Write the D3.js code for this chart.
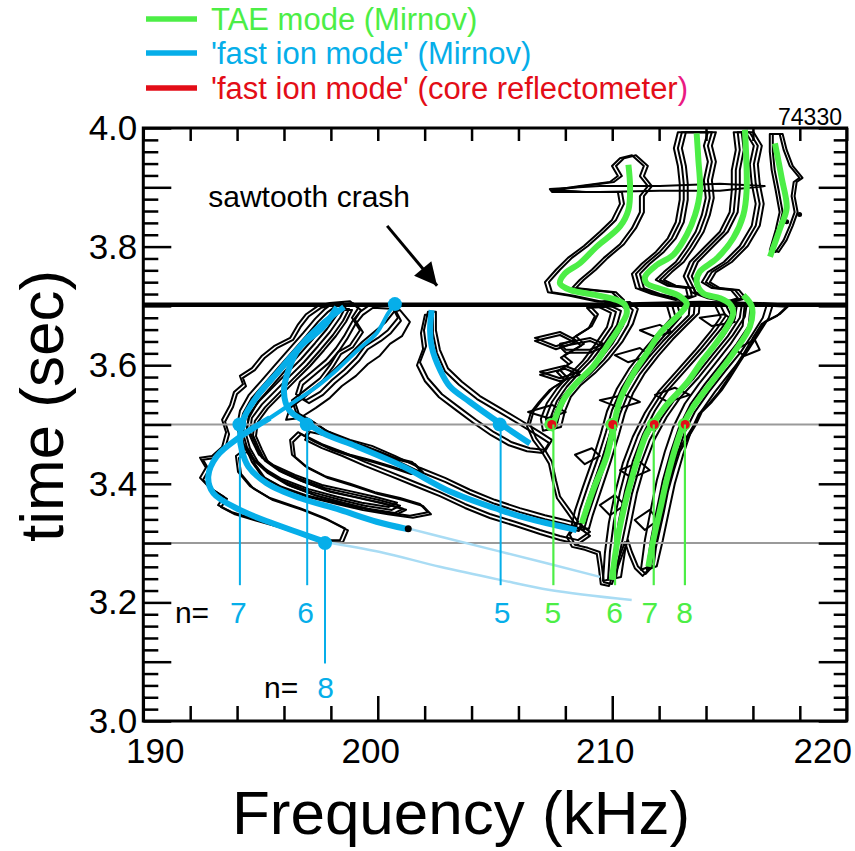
<!DOCTYPE html>
<html><head><meta charset="utf-8">
<script src="https://cdn.jsdelivr.net/npm/d3@7"></script>
<style>
body{margin:0;background:#fff}
svg{display:block}
text{font-family:"Liberation Sans",Arial,Helvetica,sans-serif}
</style>
</head><body>
<svg id="chart" width="855" height="851"></svg>
<script>
// ---------------- DATA ----------------
const freqDomain = [190, 220];
const timeDomain = [3.0, 4.0];
const xTickLabels = [190, 200, 210, 220];
const yTickLabels = [3.0, 3.2, 3.4, 3.6, 3.8, 4.0];
const sawtoothTime = 3.702;
const refTimes = [3.5, 3.3];
const shotNumber = "74330";
const legendItems = [
  {label: "TAE mode (Mirnov)", key: "tae"},
  {label: "'fast ion mode' (Mirnov)", key: "fast"},
  {label: "'fast ion mode' (core reflectometer)", key: "refl"}
];

// fast ion mode (Mirnov) curves: [freq kHz, time s]
const fastN8Upper = [[200.73,3.703],[200.45,3.688],[199.95,3.654],[199.24,3.629],[198.25,3.592],[197.40,3.564],[196.54,3.541],[195.40,3.511]];
const fastN8Lower = [[195.40,3.511],[194.12,3.479],[193.13,3.446],[192.77,3.412],[192.99,3.384],[194.12,3.356],[195.54,3.333],[196.68,3.317],[197.75,3.302]];
const fastN8Extrap = [[197.75,3.302],[200.10,3.285],[202.65,3.260],[205.21,3.238],[207.34,3.221],[210.83,3.204]];
const fastN7 = [[198.26,3.698],[197.68,3.665],[196.68,3.631],[195.69,3.586],[194.84,3.547],[194.26,3.508],[194.12,3.479],[194.20,3.457],[194.48,3.429],[195.26,3.401],[196.68,3.376],[198.39,3.356],[199.95,3.336],[201.23,3.324]];
const fastN7Extrap = [[201.37,3.324],[202.65,3.311],[205.50,3.283],[209.48,3.243]];
const fastN6 = [[198.56,3.698],[197.68,3.671],[196.68,3.631],[196.17,3.589],[196.00,3.555],[196.21,3.525],[196.97,3.503],[197.68,3.485],[199.10,3.463],[201.09,3.429],[203.08,3.387],[205.21,3.356],[206.35,3.342],[208.48,3.322]];
const fastN5 = [[202.30,3.693],[202.23,3.659],[202.30,3.631],[202.66,3.592],[203.08,3.564],[203.93,3.538],[205.21,3.502],[206.49,3.468]];
const fastDots = [[200.73,3.703],[194.10,3.5],[196.97,3.5],[205.20,3.5],[197.75,3.3]];
const fastEndDots = [[201.30,3.324]];

// TAE mode (Mirnov) curves
const taeN5 = [[207.38,3.489],[207.49,3.502],[207.91,3.541],[208.48,3.570],[209.19,3.598],[209.76,3.631],[210.33,3.665],[210.62,3.688],[210.54,3.702],[210.19,3.710],[209.34,3.718],[208.20,3.727],[207.77,3.738],[207.99,3.755],[208.62,3.772],[209.34,3.800],[210.33,3.834],[210.69,3.862],[210.76,3.901],[210.69,3.938]];
const taeN6 = [[208.70,3.333],[209.19,3.390],[209.76,3.446],[210.05,3.496],[210.33,3.541],[210.90,3.586],[211.47,3.620],[212.04,3.654],[212.60,3.676],[213.03,3.693],[213.18,3.704],[212.89,3.716],[212.18,3.727],[211.47,3.738],[211.40,3.749],[211.90,3.769],[212.60,3.786],[213.18,3.820],[213.53,3.853],[213.74,3.893],[213.67,3.949],[213.60,3.991]];
const taeN7 = [[209.98,3.238],[210.33,3.328],[210.90,3.418],[211.47,3.485],[211.75,3.502],[212.32,3.533],[213.18,3.570],[213.87,3.609],[214.43,3.637],[214.89,3.664],[215.16,3.688],[215.02,3.703],[214.60,3.713],[213.88,3.721],[213.60,3.741],[213.74,3.758],[214.46,3.780],[215.16,3.814],[215.59,3.853],[215.73,3.893],[215.66,3.997]];
const taeN8 = [[211.54,3.260],[211.75,3.305],[212.04,3.356],[212.32,3.406],[212.75,3.468],[213.06,3.502],[213.46,3.530],[214.31,3.575],[215.16,3.620],[215.87,3.665],[215.95,3.699],[215.59,3.718]];
const taeUpper = [[216.94,3.974],[217.23,3.915],[217.44,3.865],[217.16,3.831],[216.73,3.783]];

// 'fast ion mode' seen by the core reflectometer at 3.5 s
const reflDots = [[207.38,3.5],[209.98,3.5],[211.75,3.5],[213.07,3.5]];

// toroidal mode number markers
const fastMarkers = [
  {n:"7", f:194.12, t0:3.5, t1:3.229, lf:194.05, lt:3.165},
  {n:"6", f:196.99, t0:3.5, t1:3.229, lf:196.92, lt:3.165},
  {n:"8", f:197.75, t0:3.3, t1:3.097, lf:197.77, lt:3.039},
  {n:"5", f:205.24, t0:3.5, t1:3.229, lf:205.30, lt:3.165}
];
const taeMarkers = [
  {n:"5", f:207.49, t0:3.5, t1:3.229, lf:207.47, lt:3.165},
  {n:"6", f:210.12, t0:3.5, t1:3.229, lf:210.10, lt:3.165},
  {n:"7", f:211.77, t0:3.5, t1:3.229, lf:211.60, lt:3.165},
  {n:"8", f:213.10, t0:3.5, t1:3.229, lf:213.09, lt:3.165}
];
const nPrefixLabels = [{f:191.35, t:3.165}, {f:195.15, t:3.039}];

// annotation
const sawtoothText = {label:"sawtooth crash", f:192.77, t:3.867};
const sawtoothArrow = [[200.40,3.835],[202.53,3.734]];

// spectrogram contour outlines
const contourA1 = [[197.96,3.705],[198.82,3.708],[199.16,3.696],[198.90,3.680],[199.24,3.659],[198.82,3.634],[198.30,3.622],[197.96,3.600],[197.54,3.578],[196.90,3.558],[196.34,3.541],[196.51,3.521],[197.11,3.508],[197.75,3.491],[198.60,3.474],[199.45,3.464],[200.09,3.454],[200.73,3.444],[201.46,3.437],[201.80,3.423],[201.29,3.420],[200.52,3.430],[199.67,3.440],[198.82,3.449],[197.96,3.460],[197.19,3.474],[196.60,3.487],[196.26,3.474],[196.34,3.449],[196.90,3.430],[197.75,3.413],[198.82,3.400],[199.88,3.386],[200.95,3.376],[201.80,3.366],[202.14,3.352],[201.37,3.346],[200.31,3.352],[199.24,3.359],[198.18,3.369],[196.90,3.381],[195.83,3.396],[195.06,3.413],[194.63,3.437],[194.38,3.460],[193.95,3.447],[194.04,3.420],[194.55,3.396],[195.40,3.376],[196.68,3.359],[197.75,3.342],[198.60,3.325],[198.39,3.305],[197.54,3.305],[196.68,3.317],[195.62,3.331],[194.63,3.342],[193.78,3.352],[193.19,3.364],[193.44,3.378],[192.84,3.393],[192.42,3.410],[192.67,3.427],[192.42,3.444],[192.93,3.447],[193.36,3.462],[193.53,3.487],[193.36,3.508],[193.70,3.533],[193.87,3.555],[194.25,3.568],[194.12,3.582],[194.63,3.595],[195.06,3.616],[195.57,3.632],[196.26,3.646],[196.60,3.669],[196.94,3.686],[197.45,3.700]];
const contourA2 = [[198.22,3.700],[198.65,3.700],[198.39,3.680],[197.96,3.656],[197.45,3.632],[196.85,3.605],[196.26,3.582],[195.66,3.558],[195.06,3.534],[194.63,3.511],[194.55,3.487],[194.81,3.464],[195.06,3.444],[195.66,3.427],[196.60,3.410],[197.75,3.393],[198.90,3.383],[200.01,3.373],[200.95,3.363],[200.60,3.356],[199.45,3.363],[198.39,3.373],[197.19,3.386],[196.04,3.403],[195.19,3.423],[194.63,3.444],[194.29,3.467],[194.12,3.491],[194.25,3.518],[194.63,3.545],[195.15,3.568],[195.74,3.595],[196.34,3.622],[196.94,3.649],[197.45,3.673],[197.88,3.690]];
const contourA3 = [[199.67,3.702],[200.60,3.700],[200.86,3.680],[200.43,3.659],[200.01,3.646],[199.45,3.632],[199.07,3.612],[198.56,3.592],[198.05,3.575],[197.54,3.555],[196.94,3.541],[196.51,3.551],[196.68,3.572],[197.19,3.589],[197.79,3.609],[198.22,3.629],[198.56,3.649],[198.90,3.673],[199.24,3.690]];
const contourA4 = [[200.95,3.693],[201.37,3.673],[201.03,3.649],[200.52,3.636],[200.09,3.616],[199.58,3.602],[199.07,3.582],[198.47,3.565],[197.96,3.545],[197.36,3.528],[196.68,3.511],[196.09,3.508],[196.26,3.528],[196.85,3.545],[197.36,3.562],[197.88,3.582],[198.39,3.602],[198.90,3.622],[199.33,3.639],[199.84,3.656],[200.35,3.673],[200.69,3.690]];
const contourB1 = [[202.14,3.690],[202.48,3.690],[202.48,3.659],[202.65,3.626],[202.99,3.595],[203.59,3.572],[204.36,3.548],[205.21,3.528],[206.06,3.508],[206.92,3.487],[207.43,3.474],[207.17,3.457],[206.49,3.460],[205.72,3.470],[204.96,3.487],[204.19,3.508],[203.51,3.528],[202.74,3.551],[202.14,3.578],[201.80,3.605],[202.06,3.632],[201.97,3.659]];
const contourC1 = [[197.11,3.494],[197.96,3.487],[198.82,3.474],[199.75,3.464],[200.73,3.447],[201.80,3.427],[202.87,3.410],[203.93,3.390],[204.99,3.373],[206.06,3.359],[207.13,3.347],[207.98,3.339],[208.62,3.332],[209.05,3.319],[208.54,3.305],[207.77,3.312],[206.92,3.322],[205.85,3.336],[204.78,3.349],[203.72,3.366],[202.65,3.386],[201.58,3.403],[200.52,3.420],[199.45,3.437],[198.47,3.454],[197.62,3.467],[196.90,3.481]];
const contourD1 = [[209.05,3.700],[211.18,3.705],[213.73,3.707],[216.29,3.705],[217.57,3.702],[217.14,3.686],[216.50,3.673],[216.12,3.649],[215.78,3.626],[215.44,3.605],[215.01,3.578],[214.67,3.558],[214.25,3.538],[213.82,3.521],[213.56,3.499],[213.22,3.477],[212.88,3.454],[212.63,3.423],[212.37,3.386],[212.20,3.352],[212.03,3.322],[211.86,3.292],[211.77,3.263],[211.43,3.248],[211.09,3.261],[210.84,3.285],[210.67,3.305],[210.41,3.278],[210.16,3.251],[209.99,3.231],[209.64,3.234],[209.56,3.261],[209.47,3.285],[208.96,3.292],[208.41,3.297],[208.19,3.314],[208.54,3.336],[208.19,3.356],[207.77,3.379],[207.60,3.406],[207.43,3.437],[207.13,3.457],[206.75,3.477],[206.49,3.501],[206.66,3.524],[207.00,3.541],[207.47,3.562],[208.11,3.578],[207.77,3.592],[208.28,3.605],[207.94,3.616],[208.79,3.636],[208.45,3.649],[209.13,3.666],[209.39,3.686]];
const contourD2 = [[209.47,3.703],[210.54,3.705],[210.88,3.693],[210.67,3.668],[210.24,3.639],[209.64,3.609],[209.05,3.585],[208.45,3.565],[208.02,3.545],[207.77,3.521],[207.60,3.494],[207.26,3.491],[207.17,3.511],[207.43,3.538],[207.85,3.562],[208.37,3.585],[208.96,3.609],[209.47,3.636],[209.99,3.666],[210.16,3.690]];
const contourD3 = [[212.54,3.703],[213.52,3.705],[213.48,3.686],[212.97,3.666],[212.37,3.642],[211.77,3.615],[211.18,3.585],[210.67,3.551],[210.33,3.518],[210.07,3.481],[209.73,3.437],[209.30,3.386],[208.96,3.346],[208.79,3.322],[208.45,3.325],[208.62,3.356],[208.96,3.396],[209.39,3.444],[209.73,3.487],[209.99,3.524],[210.41,3.562],[210.92,3.595],[211.52,3.626],[212.11,3.653],[212.71,3.680]];
const contourD4 = [[214.59,3.703],[215.53,3.703],[215.44,3.680],[214.93,3.649],[214.25,3.616],[213.48,3.578],[212.71,3.545],[212.11,3.511],[211.60,3.474],[211.18,3.430],[210.84,3.383],[210.58,3.332],[210.33,3.285],[210.16,3.241],[209.82,3.238],[209.90,3.285],[210.07,3.336],[210.33,3.386],[210.67,3.437],[211.09,3.481],[211.60,3.521],[212.20,3.558],[212.97,3.592],[213.73,3.626],[214.42,3.659],[214.84,3.683]];
const contourD5 = [[215.78,3.703],[216.72,3.702],[216.55,3.680],[216.12,3.653],[215.61,3.622],[214.93,3.589],[214.25,3.555],[213.65,3.521],[213.22,3.487],[212.88,3.447],[212.54,3.400],[212.28,3.352],[212.03,3.305],[211.77,3.261],[211.35,3.255],[211.52,3.305],[211.77,3.356],[212.03,3.406],[212.37,3.454],[212.71,3.494],[213.22,3.535],[213.82,3.568],[214.50,3.602],[215.18,3.636],[215.69,3.666]];
const contourE1 = [[209.39,3.707],[210.33,3.710],[209.99,3.723],[209.05,3.727],[208.28,3.730],[208.62,3.744],[209.13,3.761],[209.64,3.781],[210.33,3.804],[210.84,3.831],[211.18,3.858],[211.18,3.885],[211.52,3.902],[211.18,3.919],[211.35,3.936],[210.84,3.954],[210.33,3.949],[209.99,3.936],[210.24,3.919],[209.90,3.909],[208.62,3.902],[207.43,3.895],[208.71,3.892],[210.24,3.892],[210.33,3.872],[209.99,3.845],[209.47,3.825],[208.79,3.801],[208.11,3.781],[207.60,3.761],[207.13,3.740],[207.26,3.723],[208.19,3.717]];
const contourE3 = [[212.88,3.710],[213.39,3.717],[213.31,3.730],[212.54,3.734],[212.03,3.744],[212.37,3.757],[212.88,3.774],[213.31,3.798],[213.73,3.825],[213.99,3.853],[214.16,3.882],[214.08,3.912],[214.25,3.943],[214.08,3.970],[214.25,3.993],[212.97,3.993],[212.80,3.966],[212.97,3.936],[213.05,3.906],[213.05,3.879],[212.88,3.841],[212.54,3.814],[212.03,3.791],[211.43,3.771],[211.01,3.754],[211.18,3.730],[211.86,3.720]];
const contourE4 = [[215.01,3.707],[215.53,3.713],[215.23,3.727],[214.42,3.730],[213.99,3.740],[214.25,3.757],[214.93,3.774],[215.61,3.801],[216.12,3.835],[216.29,3.872],[216.12,3.906],[216.04,3.939],[216.21,3.970],[215.86,3.993],[215.35,3.993],[215.44,3.963],[215.27,3.929],[215.27,3.895],[215.18,3.858],[214.76,3.825],[214.08,3.798],[213.48,3.774],[213.22,3.750],[213.56,3.723],[214.25,3.713]];
const contourE5 = [[207.34,3.897],[209.47,3.902],[212.03,3.902],[214.59,3.906],[216.50,3.902],[214.59,3.894],[212.03,3.894],[209.47,3.892],[207.43,3.892]];
const contourE6 = [[216.72,3.990],[217.14,3.990],[217.31,3.963],[217.57,3.936],[217.99,3.916],[217.74,3.909],[217.65,3.885],[217.78,3.858],[217.57,3.835],[217.31,3.811],[216.97,3.791],[216.72,3.794],[216.97,3.828],[217.14,3.858],[216.97,3.895],[216.80,3.929],[216.72,3.960]];
const contourF1 = [[207.77,3.636],[209.05,3.646],[209.64,3.636],[209.05,3.626],[208.02,3.626]];
const contourF2 = [[209.47,3.541],[210.54,3.550],[211.18,3.538],[210.33,3.528]];
const contourF3 = [[211.18,3.659],[212.03,3.668],[212.54,3.656],[211.82,3.648]];
const contourF4 = [[213.73,3.680],[214.80,3.686],[215.23,3.673],[214.25,3.666]];
const contourF5 = [[210.33,3.423],[211.18,3.437],[211.60,3.423],[210.84,3.410]];
const contourF7 = [[208.41,3.449],[209.13,3.460],[209.47,3.447],[208.83,3.433]];
const contourG1 = [[206.70,3.646],[207.77,3.656],[208.41,3.643],[207.60,3.632]];
const contourG2 = [[206.92,3.589],[207.98,3.599],[208.62,3.589],[207.77,3.578]];
const contourG3 = [[206.41,3.521],[207.43,3.533],[208.02,3.521],[207.26,3.511]];
const contourG4 = [[210.11,3.617],[211.18,3.629],[211.60,3.616],[210.67,3.605]];
const contourG5 = [[211.82,3.550],[212.67,3.562],[213.31,3.550],[212.37,3.538]];
const contourG6 = [[209.47,3.364],[210.11,3.381],[210.54,3.364],[209.90,3.347]];
const contourG7 = [[210.96,3.339],[211.60,3.356],[211.95,3.339],[211.39,3.322]];
const contourG9 = [[215.23,3.626],[216.08,3.643],[216.29,3.626],[215.65,3.616]];
const contourSpecks = [[217.99,3.854],[217.44,3.842]];

// ---------------- STYLE / LAYOUT ----------------
const plot = {left:143.3, right:846.7, top:128, bottom:721};
const colors = {tae:"#4cee46", fast:"#06aee9", fastLight:"#a9dcf4", refl:"#e30d17", pink:"#ea1a82", gray:"#9a9a9a"};
// pixel offsets used to draw nested copies of each contour outline
const band = [[-5,1],[0,0],[5,-1]];
const contourStyle = [
  {pts:contourA1, copies:[[0,0],[3,2]]},
  {pts:contourA2, copies:[[-3,-3],[0,0],[3,3],[6,4]]},
  {pts:contourA3, copies:[[0,0],[3,3]]},
  {pts:contourA4, copies:[[0,0]]},
  {pts:contourB1, copies:[[0,0],[-3,3]]},
  {pts:contourC1, copies:[[0,0],[0,4]]},
  {pts:contourD1, copies:[[0,0],[-3,2]]},
  {pts:contourD2, copies:band},
  {pts:contourD3, copies:band},
  {pts:contourD4, copies:band},
  {pts:contourD5, copies:[[-3,0],[3,0]]},
  {pts:contourE1, copies:[[0,0],[4,0]]},
  {pts:contourE3, copies:[[-4,0],[0,0],[4,0]]},
  {pts:contourE4, copies:[[-4,0],[0,0],[4,0]]},
  {pts:contourE5, copies:[[0,0]]},
  {pts:contourE6, copies:[[0,0],[3,0]]},
  {pts:contourF1, copies:[[0,0],[0,3]]},
  {pts:contourF2, copies:[[0,0]]},
  {pts:contourF3, copies:[[0,0]]},
  {pts:contourF4, copies:[[0,0]]},
  {pts:contourF5, copies:[[0,0]]},
  {pts:contourF7, copies:[[0,0]]},
  {pts:contourG1, copies:[[0,0],[0,3]]},
  {pts:contourG2, copies:[[0,0],[0,3]]},
  {pts:contourG3, copies:[[0,0]]},
  {pts:contourG4, copies:[[0,0]]},
  {pts:contourG5, copies:[[0,0]]},
  {pts:contourG6, copies:[[0,0]]},
  {pts:contourG7, copies:[[0,0]]},
  {pts:contourG9, copies:[[0,0]]}
];

const svg = d3.select("#chart");
const x = d3.scaleLinear().domain(freqDomain).range([plot.left, plot.right]);
const y = d3.scaleLinear().domain(timeDomain).range([plot.bottom, plot.top]);

const closedLine = d3.line().x(d => x(d[0])).y(d => y(d[1])).curve(d3.curveLinearClosed);
const smoothLine = d3.line().x(d => x(d[0])).y(d => y(d[1])).curve(d3.curveCatmullRom.alpha(0.5));

const defs = svg.append("defs");
defs.append("clipPath").attr("id","clip")
  .append("rect").attr("x",plot.left).attr("y",plot.top)
  .attr("width",plot.right-plot.left).attr("height",plot.bottom-plot.top);
const gPlot = svg.append("g").attr("clip-path","url(#clip)");

// contours
const gCont = gPlot.append("g").attr("fill","none").attr("stroke","#000")
  .attr("stroke-width",2).attr("stroke-linejoin","round");
contourStyle.forEach(c => {
  c.copies.forEach(o => {
    gCont.append("path").attr("d", closedLine(c.pts))
      .attr("transform", `translate(${o[0]},${o[1]})`);
  });
});
gCont.selectAll("circle.speck").data(contourSpecks).join("circle")
  .attr("cx", d => x(d[0])).attr("cy", d => y(d[1])).attr("r", 2.5).attr("fill","#000").attr("stroke","none");

// reference lines
gPlot.selectAll("line.ref").data(refTimes).join("line")
  .attr("x1", x(freqDomain[0])).attr("x2", x(freqDomain[1]))
  .attr("y1", d => y(d)).attr("y2", d => y(d))
  .attr("stroke", colors.gray).attr("stroke-width", 2);

// sawtooth line
gPlot.append("line").attr("x1", x(freqDomain[0])).attr("x2", x(freqDomain[1]))
  .attr("y1", y(sawtoothTime)).attr("y2", y(sawtoothTime))
  .attr("stroke","#000").attr("stroke-width",4.5);

// light blue extrapolations
[fastN8Extrap, fastN7Extrap].forEach(c => {
  gPlot.append("path").attr("d", smoothLine(c)).attr("fill","none")
    .attr("stroke", colors.fastLight).attr("stroke-width", 2.5);
});

// marker verticals
const gMark = svg.append("g");
fastMarkers.forEach(m => {
  gMark.append("line").attr("x1", x(m.f)).attr("x2", x(m.f)).attr("y1", y(m.t0)).attr("y2", y(m.t1))
    .attr("stroke", colors.fast).attr("stroke-width", 2);
});
taeMarkers.forEach(m => {
  gMark.append("line").attr("x1", x(m.f)).attr("x2", x(m.f)).attr("y1", y(m.t0)).attr("y2", y(m.t1))
    .attr("stroke", colors.tae).attr("stroke-width", 2.2);
});

// fast ion mode curves
gPlot.append("path").attr("d", smoothLine(fastN8Upper)).attr("fill","none")
  .attr("stroke", colors.fast).attr("stroke-width", 4).attr("stroke-linecap","round");
[fastN8Lower, fastN7, fastN6, fastN5].forEach(c => {
  gPlot.append("path").attr("d", smoothLine(c)).attr("fill","none")
    .attr("stroke", colors.fast).attr("stroke-width", 6).attr("stroke-linecap","butt");
});
gPlot.selectAll("circle.fd").data(fastDots).join("circle")
  .attr("cx", d => x(d[0])).attr("cy", d => y(d[1])).attr("r", 7).attr("fill", colors.fast);
gPlot.selectAll("circle.fe").data(fastEndDots).join("circle")
  .attr("cx", d => x(d[0])).attr("cy", d => y(d[1])).attr("r", 3.5).attr("fill", "#000");

// TAE curves
[taeN5, taeN6, taeN7, taeN8, taeUpper].forEach(c => {
  gPlot.append("path").attr("d", smoothLine(c)).attr("fill","none")
    .attr("stroke", colors.tae).attr("stroke-width", 6).attr("stroke-linecap","butt");
});

// reflectometer dots
gPlot.selectAll("circle.rg").data(reflDots).join("circle")
  .attr("cx", d => x(d[0])).attr("cy", d => y(d[1])).attr("r", 6.5).attr("fill", colors.tae);
gPlot.selectAll("circle.rd").data(reflDots).join("circle")
  .attr("cx", d => x(d[0]) + 1).attr("cy", d => y(d[1])).attr("r", 4.5).attr("fill", colors.refl);

// ---------------- AXES ----------------
const xTicks = d3.range(190, 221, 2);
const yTicks = d3.range(0, 51).map(i => +(3 + i * 0.02).toFixed(2));
const majorX = d => d % 10 === 0;
const majorY = d => Math.round(d * 100) % 10 === 0;

const gB = svg.append("g").attr("transform", `translate(0,${plot.bottom})`)
  .call(d3.axisBottom(x).tickValues(xTicks).tickFormat("").tickSizeOuter(0));
gB.select(".domain").remove();
gB.selectAll(".tick line").attr("y2", d => majorX(d) ? -25 : -15).attr("stroke-width", 2.5);

const gT = svg.append("g").attr("transform", `translate(0,${plot.top})`)
  .call(d3.axisTop(x).tickValues(xTicks).tickFormat("").tickSizeOuter(0));
gT.select(".domain").remove();
gT.selectAll(".tick line").attr("y2", 13).attr("stroke-width", 2.5);

const gL = svg.append("g").attr("transform", `translate(${plot.left},0)`)
  .call(d3.axisLeft(y).tickValues(yTicks).tickFormat("").tickSizeOuter(0));
gL.select(".domain").remove();
gL.selectAll(".tick line").attr("x2", d => majorY(d) ? 28 : 15).attr("stroke-width", 2.5);

const gR = svg.append("g").attr("transform", `translate(${plot.right},0)`)
  .call(d3.axisRight(y).tickValues(yTicks).tickFormat("").tickSizeOuter(0));
gR.select(".domain").remove();
gR.selectAll(".tick line").attr("x2", d => majorY(d) ? -28 : -13).attr("stroke-width", 2.5);

svg.append("rect").attr("x", plot.left).attr("y", plot.top)
  .attr("width", plot.right - plot.left).attr("height", plot.bottom - plot.top)
  .attr("fill","none").attr("stroke","#000").attr("stroke-width",3);

// tick labels
const xLabelShift = {190: 12, 200: -7, 210: -7, 220: -24};
svg.selectAll("text.xl").data(xTickLabels).join("text")
  .attr("x", d => x(d) + xLabelShift[d]).attr("y", 763)
  .attr("text-anchor","middle").attr("font-size", 35).text(d => d);
svg.selectAll("text.yl").data(yTickLabels).join("text")
  .attr("x", plot.left - 6).attr("y", d => y(d) + 12)
  .attr("text-anchor","end").attr("font-size", 35).text(d => d.toFixed(1));

// axis titles
svg.append("text").attr("x", 461).attr("y", 834).attr("text-anchor","middle")
  .attr("font-size", 62).text("Frequency (kHz)");
svg.append("text").attr("transform","translate(63,406) rotate(-90)").attr("text-anchor","middle")
  .attr("font-size", 62).text("time (sec)");

// shot number
svg.append("text").attr("x", 842).attr("y", 125).attr("text-anchor","end")
  .attr("font-size", 23).text(shotNumber);

// sawtooth annotation
svg.append("text").attr("x", x(sawtoothText.f)).attr("y", y(sawtoothText.t))
  .attr("font-size", 30).text(sawtoothText.label);
defs.append("marker").attr("id","arr").attr("viewBox","0 0 10 10")
  .attr("refX",10).attr("refY",5).attr("markerWidth",9).attr("markerHeight",7.5)
  .attr("markerUnits","strokeWidth").attr("orient","auto")
  .append("path").attr("d","M0,0 L10,5 L0,10 Z").attr("fill","#000");
svg.append("line")
  .attr("x1", x(sawtoothArrow[0][0])).attr("y1", y(sawtoothArrow[0][1]))
  .attr("x2", x(sawtoothArrow[1][0])).attr("y2", y(sawtoothArrow[1][1]))
  .attr("stroke","#000").attr("stroke-width",3).attr("marker-end","url(#arr)");

// n labels
svg.selectAll("text.np").data(nPrefixLabels).join("text")
  .attr("x", d => x(d.f)).attr("y", d => y(d.t)).attr("font-size", 30).text("n=");
svg.selectAll("text.fn").data(fastMarkers).join("text")
  .attr("x", d => x(d.lf)).attr("y", d => y(d.lt)).attr("text-anchor","middle")
  .attr("font-size", 30).attr("fill", colors.fast).text(d => d.n);
svg.selectAll("text.tn").data(taeMarkers).join("text")
  .attr("x", d => x(d.lf)).attr("y", d => y(d.lt)).attr("text-anchor","middle")
  .attr("font-size", 30).attr("fill", colors.tae).text(d => d.n);

// legend
const legendRows = [30, 64, 99];
const legendColors = {tae: colors.tae, fast: colors.fast, refl: colors.refl};
legendItems.forEach((it, i) => {
  const yy = legendRows[i];
  svg.append("line").attr("x1", 146).attr("x2", 197).attr("y1", yy - 11).attr("y2", yy - 11)
    .attr("stroke", legendColors[it.key]).attr("stroke-width", 5.5);
  const t = svg.append("text").attr("x", 211).attr("y", yy).attr("font-size", 31)
    .attr("fill", legendColors[it.key]);
  if (it.key === "refl") {
    t.append("tspan").text(it.label.slice(0, -1));
    t.append("tspan").attr("fill", colors.pink).text(it.label.slice(-1));
  } else {
    t.text(it.label);
  }
});
</script>
</body></html>
